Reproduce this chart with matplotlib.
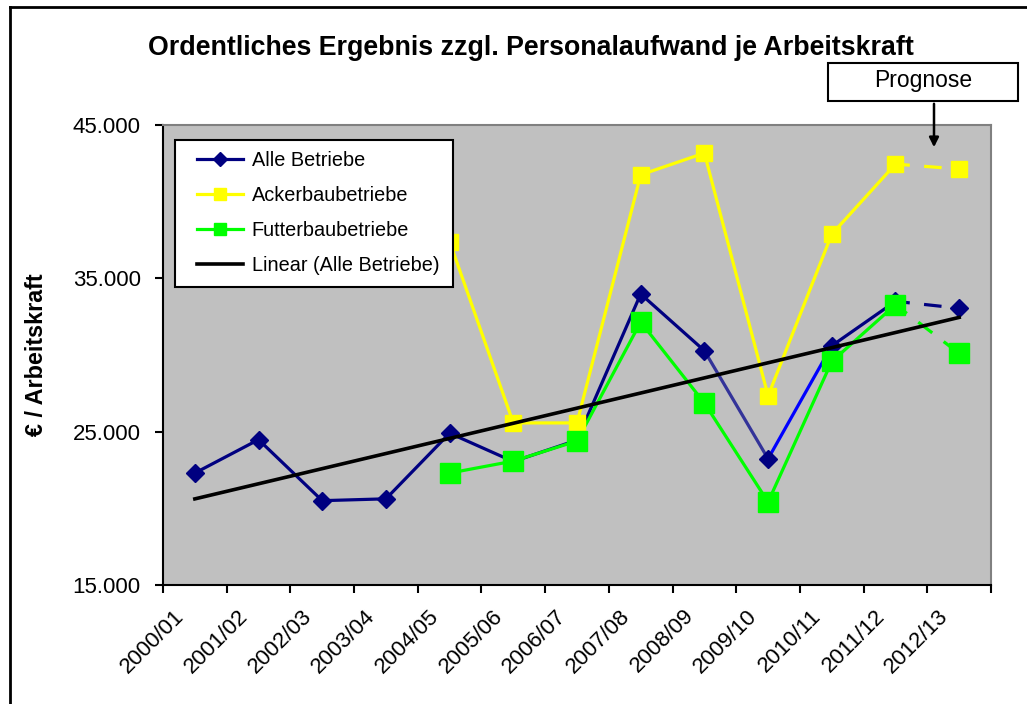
import numpy as np
import matplotlib
matplotlib.use("Agg")
import matplotlib.pyplot as plt
from matplotlib.lines import Line2D
from matplotlib.patches import Rectangle
from matplotlib.ticker import FuncFormatter
from matplotlib.transforms import ScaledTranslation

plt.rcParams["font.family"] = ["Liberation Sans", "DejaVu Sans"]

YEARS = ["2000/01", "2001/02", "2002/03", "2003/04", "2004/05", "2005/06", "2006/07",
         "2007/08", "2008/09", "2009/10", "2010/11", "2011/12", "2012/13"]
ALLE = [22300, 24480, 20500, 20620, 24900, 23050, 24450,
        33980, 30280, 23230, 30600, 33500, 33050]
ACKER = [np.nan, np.nan, np.nan, np.nan, 37400, 25570, 25570,
         41750, 43170, 27330, 37880, 42450, 42130]
FUTTER = [np.nan, np.nan, np.nan, np.nan, 22300, 23080, 24390,
          32150, 26870, 20410, 29580, 33280, 30100]

NAVY, YELLOW, GREEN = "#000080", "#FFFF00", "#00FF00"
# per-segment colours of the "Alle" line (Excel formatted some segments separately)
ALLE_SEG = [NAVY] * 8 + ["#333399", "#0000FF", NAVY, NAVY]
DASH = (1, (5.5, 4.5))
LW = 2.3

fig = plt.figure(figsize=(10.27, 7.04), dpi=100)
W, H = 1027, 704
ax = fig.add_axes([163 / W, 1 - 585 / H, (991 - 163) / W, (585 - 125) / H])
ax.set_facecolor("#C0C0C0")

x = np.arange(len(YEARS))

# Alle Betriebe: segment by segment, last segment = forecast (dashed)
for i in range(len(x) - 1):
    ls = DASH if i == len(x) - 2 else "-"
    ax.plot(x[i:i + 2], ALLE[i:i + 2], color=ALLE_SEG[i], lw=LW, ls=ls, zorder=2)
ax.plot(x, ALLE, ls="none", marker="D", ms=9, color=NAVY, zorder=3)

for vals, col, ms in [(ACKER, YELLOW, 11.5), (FUTTER, GREEN, 14)]:
    ax.plot(x[:-1], vals[:-1], color=col, lw=LW, zorder=4)
    ax.plot(x[-2:], vals[-2:], color=col, lw=LW, ls=DASH, zorder=4)
    ax.plot(x, vals, ls="none", marker="s", ms=ms, color=col, zorder=5)

# linear trend of Alle Betriebe
k, d = np.polyfit(x, ALLE, 1)
ax.plot(x, k * x + d, color="black", lw=LW + 0.3, zorder=6)

ax.set_xlim(-0.5, len(x) - 0.5)
ax.set_ylim(15000, 45000)
ax.set_yticks([15000, 25000, 35000, 45000])
ax.yaxis.set_major_formatter(FuncFormatter(lambda v, p: f"{v:,.0f}".replace(",", ".")))
ax.tick_params(axis="y", direction="out", length=6, width=1.5, pad=10, labelsize=16)

ax.set_xticks(x)
ax.set_xticklabels(YEARS, rotation=45, ha="right", va="center", rotation_mode="anchor")
ax.set_xticks(np.arange(-0.5, len(x)), minor=True)
ax.tick_params(axis="x", which="major", length=0, pad=20, labelsize=16)
ax.tick_params(axis="x", which="minor", direction="out", length=6, width=1.5)
off = ScaledTranslation(-10 / 72, 0, fig.dpi_scale_trans)
for lab in ax.get_xticklabels():
    lab.set_transform(lab.get_transform() + off)

for s in ("left", "bottom"):
    ax.spines[s].set_color("black")
    ax.spines[s].set_linewidth(1.5)
for s in ("top", "right"):
    ax.spines[s].set_color("#808080")
    ax.spines[s].set_linewidth(1.5)

ax.set_ylabel("€ / Arbeitskraft", fontsize=16.8, fontweight="bold")
ax.yaxis.set_label_coords(-0.139, 0.5)

# legend: own white box, legend content placed inside it
ax.add_patch(Rectangle((0.0145, 0.6478), 0.3357, 0.3196, transform=ax.transAxes,
                       fc="white", ec="black", lw=1.5, zorder=9))
handles = [
    Line2D([], [], color=NAVY, lw=LW, marker="D", ms=7),
    Line2D([], [], color=YELLOW, lw=LW, marker="s", ms=8),
    Line2D([], [], color=GREEN, lw=LW, marker="s", ms=8),
    Line2D([], [], color="black", lw=LW + 0.3),
]
labels = ["Alle Betriebe", "Ackerbaubetriebe", "Futterbaubetriebe", "Linear (Alle Betriebe)"]
leg = ax.legend(handles, labels, loc="upper left", bbox_to_anchor=(0.0411, 0.9435),
                borderaxespad=0, borderpad=0, fontsize=14.3, numpoints=1, handlelength=2.3,
                handletextpad=0.45, labelspacing=0.8, frameon=False)
leg.set_zorder(10)

fig.text(531 / W, 1 - 48 / H, "Ordentliches Ergebnis zzgl. Personalaufwand je Arbeitskraft",
         ha="center", va="center", fontsize=19.3, fontweight="bold")

# Prognose box with arrow
fig.patches.append(Rectangle((828 / W, 1 - 101 / H), 190 / W, 38 / H, transform=fig.transFigure,
                             fc="white", ec="black", lw=1.5))
fig.text(923 / W, 1 - 81 / H, "Prognose", ha="center", va="center", fontsize=16.5)
ax.annotate("", xy=(934 / W, 1 - 150 / H), xytext=(934 / W, 1 - 101 / H),
            xycoords="figure fraction", textcoords="figure fraction",
            arrowprops=dict(arrowstyle="-|>", color="black", lw=1.8, mutation_scale=14))

# outer frame (cut at right/bottom as in the screenshot)
fig.add_artist(Line2D([10 / W, 10 / W], [0, 1 - 7 / H], color="black", lw=2, transform=fig.transFigure))
fig.add_artist(Line2D([10 / W, 1], [1 - 7 / H, 1 - 7 / H], color="black", lw=2, transform=fig.transFigure))

fig.savefig("out.png", dpi=100)
